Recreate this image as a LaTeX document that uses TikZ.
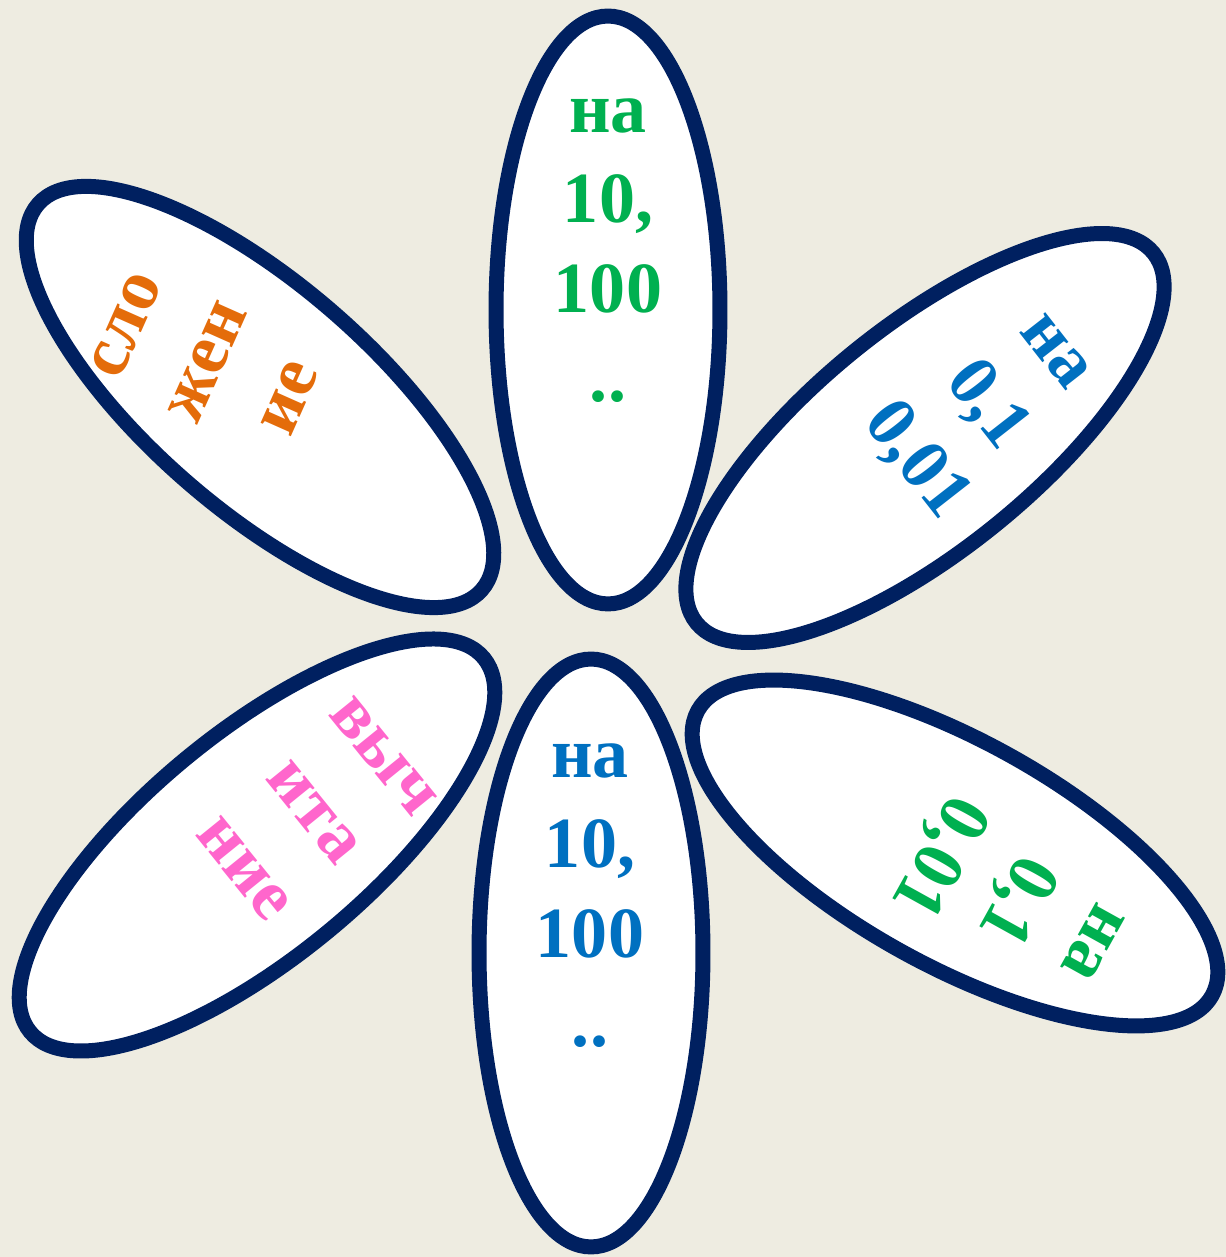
\documentclass[tikz,border=0pt]{standalone}
\usepackage{fontspec}
\setmainfont{Liberation Serif}
\usepackage{xcolor}
\usetikzlibrary{shapes.geometric}
\definecolor{bgtan}{HTML}{EEECE1}
\definecolor{petalrim}{HTML}{002060}
\definecolor{txtgreen}{HTML}{00B050}
\definecolor{txtblue}{HTML}{0070C0}
\definecolor{txtorange}{HTML}{E46C0A}
\definecolor{txtpink}{HTML}{FF66CC}

\begin{document}
\begin{tikzpicture}[
  x=0.02cm, y=0.02cm,
  petal/.style={ellipse, draw=petalrim, fill=white, line width=0.3cm, inner sep=0pt,
    minimum width=11.76cm, minimum height=4.48cm},
  word/.style={align=center, inner sep=0pt, font=\fontsize{41}{51}\selectfont\bfseries}
]
\fill[bgtan] (0,0) rectangle (1226,1257);
\useasboundingbox (0,0) rectangle (1226,1257);
\node[petal, rotate=90] (ptop) at (608,947) {};
\node[petal, rotate=39] (pur) at (925,819) {};
\node[petal, rotate=-41] (pul) at (260,860) {};
\node[petal, rotate=39.5] (pll) at (257,412) {};
\node[petal, rotate=90] (pbot) at (591,304) {};
\node[petal, rotate=-29] (plr) at (955,404) {};
\node[word, text=txtgreen] (ttop) at (608,1006) {на\\10,\\100\\..};
\node[word, text=txtblue, rotate=-52] (tur) at (981,847) {на\\0,1\\0,01};
\node[word, text=txtorange, rotate=66] (tul) at (208,895) {сло\\жен\\ие};
\node[word, text=txtpink, rotate=-51] (tll) at (313,444) {выч\\ита\\ние};
\node[word, text=txtblue] (tbot) at (590,361) {на\\10,\\100\\..};
\node[word, text=txtgreen, rotate=-119] (tlr) at (1010,361) {на\\0,1\\0,01};
\end{tikzpicture}
\end{document}
